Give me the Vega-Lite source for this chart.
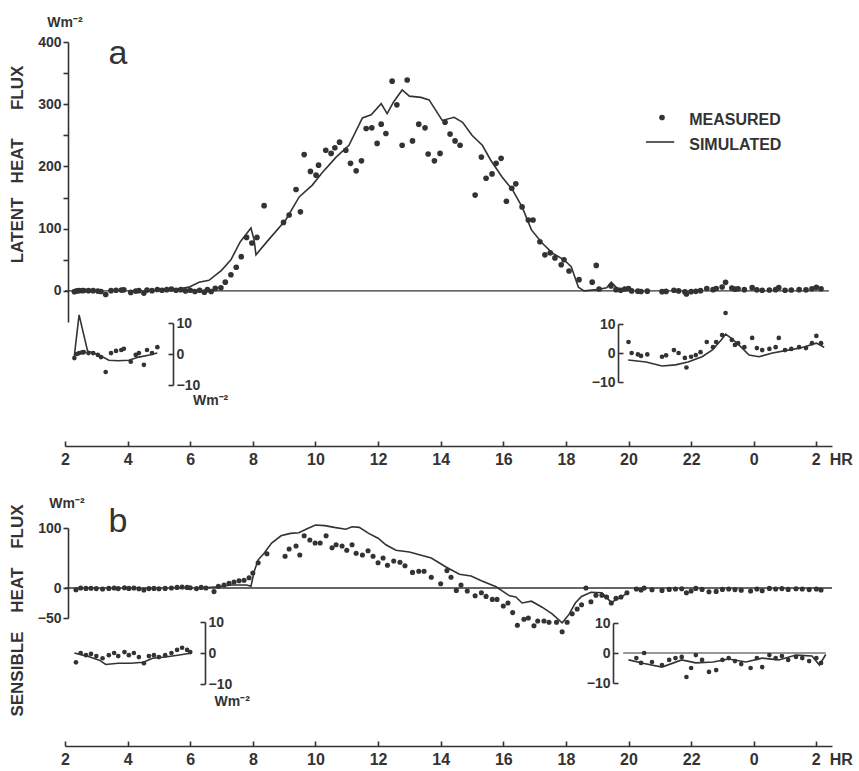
{
"$schema": "https://vega.github.io/schema/vega-lite/v6.json",
"width": 767, "height": 704,
"autosize": {"type": "none"},
"padding": {"left": 65, "top": 42, "right": 27, "bottom": 25},
"background": "white",
"config": {"view": {"stroke": null}, "axis": {"grid": false, "domainColor": "#333", "tickColor": "#333", "labelColor": "#333", "titleColor": "#333", "labelFont": "Liberation Sans", "titleFont": "Liberation Sans", "labelFontWeight": "bold", "domainWidth": 1.6, "tickWidth": 1.6, "labelOverlap": false, "labelBound": false, "labelFlush": false}, "text": {"font": "Liberation Sans", "color": "#333"}},
"datasets": {
"a_meas": [{"h":2.3,"v":-1.3},{"h":2.38,"v":0},{"h":2.45,"v":0.3},{"h":2.55,"v":0.5},{"h":2.6,"v":0.6},{"h":2.75,"v":0.3},{"h":2.9,"v":0.3},{"h":3.05,"v":-0.3},{"h":3.15,"v":-1},{"h":3.3,"v":-5.8},{"h":3.47,"v":0.3},{"h":3.63,"v":1},{"h":3.8,"v":1.3},{"h":3.88,"v":1.7},{"h":4.1,"v":-2.5},{"h":4.26,"v":-0.3},{"h":4.36,"v":0.3},{"h":4.52,"v":-3.5},{"h":4.62,"v":1.3},{"h":4.78,"v":0.3},{"h":4.95,"v":2.2},{"h":5.1,"v":1},{"h":5.25,"v":2},{"h":5.4,"v":3},{"h":5.55,"v":1},{"h":5.7,"v":2},{"h":5.85,"v":0},{"h":6.0,"v":1},{"h":6.15,"v":-1},{"h":6.3,"v":1},{"h":6.45,"v":-2},{"h":6.55,"v":2},{"h":6.67,"v":-1},{"h":6.8,"v":4},{"h":6.98,"v":5},{"h":7.12,"v":14},{"h":7.3,"v":26},{"h":7.47,"v":38},{"h":7.63,"v":55},{"h":7.8,"v":86},{"h":7.97,"v":77},{"h":8.13,"v":86},{"h":8.36,"v":137},{"h":8.98,"v":110},{"h":9.16,"v":122},{"h":9.38,"v":163},{"h":9.52,"v":127},{"h":9.64,"v":219},{"h":9.84,"v":192},{"h":10.02,"v":186},{"h":10.1,"v":202},{"h":10.33,"v":226},{"h":10.5,"v":221},{"h":10.62,"v":230},{"h":10.77,"v":239},{"h":10.97,"v":226},{"h":11.12,"v":205},{"h":11.3,"v":193},{"h":11.47,"v":209},{"h":11.62,"v":261},{"h":11.8,"v":262},{"h":11.97,"v":237},{"h":12.1,"v":268},{"h":12.25,"v":253},{"h":12.45,"v":337},{"h":12.6,"v":299},{"h":12.77,"v":234},{"h":12.93,"v":339},{"h":13.1,"v":241},{"h":13.3,"v":268},{"h":13.5,"v":262},{"h":13.6,"v":220},{"h":13.8,"v":209},{"h":13.98,"v":221},{"h":14.14,"v":271},{"h":14.3,"v":252},{"h":14.46,"v":241},{"h":14.62,"v":234},{"h":15.1,"v":154},{"h":15.3,"v":215},{"h":15.45,"v":181},{"h":15.64,"v":188},{"h":15.77,"v":205},{"h":15.93,"v":213},{"h":16.1,"v":144},{"h":16.27,"v":165},{"h":16.4,"v":172},{"h":16.6,"v":135},{"h":16.8,"v":114},{"h":16.95,"v":114},{"h":17.17,"v":79},{"h":17.33,"v":58},{"h":17.5,"v":61},{"h":17.65,"v":53},{"h":17.85,"v":42},{"h":17.94,"v":50},{"h":18.1,"v":32},{"h":18.42,"v":18},{"h":18.84,"v":14},{"h":18.97,"v":41},{"h":19.06,"v":3},{"h":19.44,"v":8},{"h":19.6,"v":2},{"h":19.75,"v":1},{"h":19.88,"v":3},{"h":20.0,"v":3.8},{"h":20.1,"v":0},{"h":20.3,"v":-0.5},{"h":20.4,"v":-1},{"h":20.6,"v":-0.5},{"h":21.07,"v":-1.3},{"h":21.2,"v":-0.8},{"h":21.45,"v":1},{"h":21.6,"v":0},{"h":21.8,"v":-1.7},{"h":21.85,"v":-5},{"h":22.0,"v":-1.3},{"h":22.15,"v":-0.7},{"h":22.3,"v":0.3},{"h":22.5,"v":3.8},{"h":22.7,"v":2},{"h":22.8,"v":3.8},{"h":22.99,"v":6.2},{"h":23.1,"v":13.8},{"h":23.3,"v":4.5},{"h":23.4,"v":2.8},{"h":23.5,"v":3.4},{"h":23.7,"v":2},{"h":23.95,"v":5.2},{"h":24.1,"v":1.7},{"h":24.27,"v":1},{"h":24.5,"v":1.4},{"h":24.7,"v":2},{"h":24.8,"v":5.2},{"h":25.0,"v":1},{"h":25.2,"v":1.4},{"h":25.45,"v":2},{"h":25.67,"v":1.7},{"h":25.86,"v":3.4},{"h":26.0,"v":5.9},{"h":26.15,"v":3.4}],
"a_sim_main": [{"h":5.0,"v":1},{"h":5.6,"v":3},{"h":5.96,"v":6},{"h":6.28,"v":14},{"h":6.6,"v":17},{"h":7.0,"v":33},{"h":7.3,"v":50},{"h":7.6,"v":79},{"h":7.94,"v":101},{"h":8.04,"v":82},{"h":8.1,"v":58},{"h":8.5,"v":82},{"h":9.05,"v":114},{"h":9.48,"v":151},{"h":9.9,"v":170},{"h":10.2,"v":189},{"h":10.66,"v":215},{"h":11.07,"v":234},{"h":11.5,"v":278},{"h":11.78,"v":283},{"h":12.1,"v":301},{"h":12.29,"v":285},{"h":12.5,"v":304},{"h":12.77,"v":323},{"h":13.0,"v":313},{"h":13.37,"v":311},{"h":13.63,"v":307},{"h":14.05,"v":274},{"h":14.43,"v":279},{"h":14.7,"v":271},{"h":15.0,"v":250},{"h":15.33,"v":234},{"h":15.6,"v":210},{"h":15.96,"v":183},{"h":16.3,"v":162},{"h":16.6,"v":135},{"h":16.9,"v":98},{"h":17.24,"v":77},{"h":17.56,"v":61},{"h":17.94,"v":50},{"h":18.17,"v":39},{"h":18.4,"v":6},{"h":18.58,"v":0},{"h":19.0,"v":2},{"h":19.3,"v":5},{"h":19.45,"v":14},{"h":19.6,"v":6},{"h":19.8,"v":2},{"h":20.0,"v":1}],
"a_sim_night": [{"h":2.29,"v":-1.3},{"h":2.45,"v":12.6},{"h":2.72,"v":1},{"h":3.09,"v":-0.3},{"h":3.4,"v":-2},{"h":3.7,"v":-2.2},{"h":4.04,"v":-2},{"h":4.36,"v":-1},{"h":4.7,"v":-0.3},{"h":4.95,"v":0.3},{"h":19.99,"v":-2.4},{"h":20.56,"v":-3.1},{"h":21.07,"v":-4.5},{"h":21.5,"v":-4.1},{"h":21.9,"v":-3.1},{"h":22.35,"v":-1.3},{"h":22.67,"v":1},{"h":22.96,"v":4.5},{"h":23.1,"v":6.5},{"h":23.3,"v":5},{"h":23.6,"v":2},{"h":23.85,"v":-0.7},{"h":24.17,"v":-1.3},{"h":24.6,"v":0},{"h":25.1,"v":1},{"h":25.5,"v":1.7},{"h":26.0,"v":3.4},{"h":26.25,"v":2}],
"b_meas": [{"h":2.35,"v":-3},{"h":2.5,"v":0},{"h":2.67,"v":-0.7},{"h":2.83,"v":-0.3},{"h":3.0,"v":-1},{"h":3.2,"v":-1.7},{"h":3.4,"v":-0.7},{"h":3.57,"v":0},{"h":3.7,"v":-1},{"h":3.9,"v":0.3},{"h":4.04,"v":-0.7},{"h":4.2,"v":0},{"h":4.36,"v":-1.3},{"h":4.52,"v":-3.3},{"h":4.68,"v":-1},{"h":4.84,"v":-0.7},{"h":5.0,"v":-1.3},{"h":5.2,"v":-0.7},{"h":5.4,"v":0},{"h":5.58,"v":1},{"h":5.74,"v":1.7},{"h":5.9,"v":1},{"h":6.0,"v":0.3},{"h":6.2,"v":-1},{"h":6.35,"v":1},{"h":6.5,"v":0},{"h":6.76,"v":-6},{"h":6.9,"v":3},{"h":7.08,"v":5},{"h":7.24,"v":8},{"h":7.4,"v":10},{"h":7.56,"v":12},{"h":7.72,"v":13},{"h":7.88,"v":17},{"h":8.0,"v":25},{"h":8.17,"v":42},{"h":8.45,"v":57},{"h":9.03,"v":53},{"h":9.16,"v":65},{"h":9.38,"v":70},{"h":9.5,"v":55},{"h":9.64,"v":87},{"h":9.82,"v":80},{"h":9.99,"v":75},{"h":10.15,"v":75},{"h":10.34,"v":87},{"h":10.53,"v":67},{"h":10.66,"v":72},{"h":10.85,"v":70},{"h":11.0,"v":63},{"h":11.17,"v":72},{"h":11.3,"v":58},{"h":11.5,"v":55},{"h":11.68,"v":62},{"h":11.84,"v":53},{"h":12.0,"v":42},{"h":12.16,"v":50},{"h":12.3,"v":38},{"h":12.5,"v":45},{"h":12.7,"v":43},{"h":12.86,"v":37},{"h":13.1,"v":26},{"h":13.3,"v":28},{"h":13.47,"v":28},{"h":13.7,"v":18},{"h":14.0,"v":7},{"h":14.2,"v":29},{"h":14.33,"v":18},{"h":14.5,"v":-4},{"h":14.65,"v":5},{"h":14.85,"v":-5},{"h":15.1,"v":-13},{"h":15.3,"v":-8},{"h":15.45,"v":-14},{"h":15.65,"v":-19},{"h":15.8,"v":-19},{"h":16.0,"v":-30},{"h":16.15,"v":-25},{"h":16.3,"v":-41},{"h":16.45,"v":-62},{"h":16.66,"v":-52},{"h":16.8,"v":-50},{"h":16.98,"v":-63},{"h":17.1,"v":-55},{"h":17.3,"v":-55},{"h":17.46,"v":-57},{"h":17.7,"v":-57},{"h":17.88,"v":-73},{"h":18.04,"v":-57},{"h":18.2,"v":-43},{"h":18.36,"v":-35},{"h":18.5,"v":-28},{"h":18.64,"v":0},{"h":18.8,"v":-23},{"h":18.96,"v":-12},{"h":19.15,"v":-12},{"h":19.3,"v":-15},{"h":19.45,"v":-25},{"h":19.6,"v":-17},{"h":19.76,"v":-15},{"h":19.95,"v":-8},{"h":20.25,"v":-1.7},{"h":20.4,"v":-3.3},{"h":20.5,"v":0},{"h":20.75,"v":-3},{"h":21.07,"v":-4},{"h":21.3,"v":-2.3},{"h":21.5,"v":-1.7},{"h":21.7,"v":-1.3},{"h":21.85,"v":-8},{"h":22.0,"v":-5},{"h":22.15,"v":-0.7},{"h":22.35,"v":-2.3},{"h":22.57,"v":-6.3},{"h":22.8,"v":-5.7},{"h":23.0,"v":-2.3},{"h":23.2,"v":-1.7},{"h":23.4,"v":-2.7},{"h":23.6,"v":-3.7},{"h":23.9,"v":-5},{"h":24.1,"v":-1.7},{"h":24.27,"v":-4.7},{"h":24.5,"v":-0.7},{"h":24.7,"v":-1.7},{"h":24.9,"v":-1},{"h":25.1,"v":-2.3},{"h":25.35,"v":-1.3},{"h":25.55,"v":-1.7},{"h":25.77,"v":-2.7},{"h":26.0,"v":-1.7},{"h":26.15,"v":-3.3}],
"b_sim_main": [{"h":6.3,"v":0},{"h":6.9,"v":2},{"h":7.3,"v":5},{"h":7.8,"v":5},{"h":7.94,"v":3},{"h":8.04,"v":27},{"h":8.17,"v":47},{"h":8.36,"v":58},{"h":8.6,"v":75},{"h":8.9,"v":87},{"h":9.2,"v":91},{"h":9.47,"v":92},{"h":9.7,"v":98},{"h":10.0,"v":105},{"h":10.3,"v":104},{"h":10.6,"v":101},{"h":10.97,"v":98},{"h":11.17,"v":102},{"h":11.4,"v":101},{"h":11.7,"v":91},{"h":12.0,"v":83},{"h":12.25,"v":72},{"h":12.57,"v":63},{"h":13.0,"v":60},{"h":13.7,"v":50},{"h":14.17,"v":35},{"h":14.6,"v":23},{"h":14.97,"v":20},{"h":15.3,"v":12},{"h":15.77,"v":2},{"h":16.2,"v":-13},{"h":16.4,"v":-15},{"h":16.6,"v":-25},{"h":16.9,"v":-22},{"h":17.24,"v":-32},{"h":17.56,"v":-43},{"h":17.88,"v":-58},{"h":18.1,"v":-44},{"h":18.3,"v":-25},{"h":18.5,"v":-14},{"h":18.8,"v":-7},{"h":19.15,"v":-8},{"h":19.45,"v":-24},{"h":19.8,"v":-14},{"h":20.0,"v":-7}],
"b_sim_night": [{"h":2.3,"v":0},{"h":2.7,"v":-1},{"h":3.1,"v":-2.3},{"h":3.3,"v":-3.7},{"h":3.7,"v":-3.3},{"h":4.1,"v":-3.3},{"h":4.5,"v":-3},{"h":4.8,"v":-1.7},{"h":5.2,"v":-1.3},{"h":5.6,"v":-0.7},{"h":6.05,"v":0},{"h":20.0,"v":-2.3},{"h":20.5,"v":-3.5},{"h":21.07,"v":-4.7},{"h":21.7,"v":-2.3},{"h":22.15,"v":-3.3},{"h":22.7,"v":-3},{"h":23.2,"v":-2},{"h":23.75,"v":-3},{"h":24.27,"v":-1.7},{"h":24.8,"v":-2.3},{"h":25.35,"v":-0.7},{"h":25.86,"v":-1},{"h":26.1,"v":-4},{"h":26.3,"v":-0.5}]
},
"resolve": {"scale": {"y": "independent"}, "axis": {"x": "independent", "y": "independent"}},
"layer": [
{"layer": [
 {"data": {"name": "a_meas"}, "mark": {"type": "point", "filled": true, "size": 32, "color": "#333", "opacity": 1},
  "encoding": {
   "x": {"field": "h", "type": "quantitative", "scale": {"domain": [2, 26.5], "nice": false, "zero": false},
     "axis": {"orient": "bottom", "offset": -300, "values": [2,3,4,5,6,7,8,9,10,11,12,13,14,15,16,17,18,19,20,21,22,23,24,25,26], "labelExpr": "datum.value % 2 != 0 ? '' : (datum.value == 26 ? '2\u00a0\u00a0HR' : '' + (datum.value % 24))", "labelAlign": {"condition": {"test": "datum.value == 26", "value": "left"}, "value": "center"}, "labelOffset": {"condition": {"test": "datum.value == 26", "value": -5}, "value": 0}, "tickSize": -5, "labelPadding": 10, "labelFontSize": 16, "title": null}},
   "y": {"field": "v", "type": "quantitative", "scale": {"domain": [-50, 400], "range": [280, 0], "nice": false, "zero": false},
     "axis": {"orient": "left", "offset": -3, "values": [0,50,100,150,200,250,300,350,400], "labelExpr": "datum.value % 100 == 0 ? datum.label : ''", "tickSize": 5, "labelPadding": 2, "labelFontSize": 14, "title": "LATENT\u00a0\u00a0\u00a0HEAT\u00a0\u00a0\u00a0\u00a0\u00a0\u00a0FLUX", "titleFontSize": 17, "titleFontWeight": "bold", "titleAngle": -90, "titleX": -51, "titleY": 122, "titleBaseline": "middle", "titleAlign": "center"}}
  }},
 {"data": {"name": "a_sim_main"}, "mark": {"type": "line", "color": "#333", "strokeWidth": 1.6},
  "encoding": {"x": {"field": "h", "type": "quantitative", "scale": {"domain": [2, 26.5], "nice": false, "zero": false}},
   "y": {"field": "v", "type": "quantitative", "scale": {"domain": [-50, 400], "range": [280, 0], "nice": false, "zero": false}}}},
 {"data": {"values": [{"k": "zero"}]}, "mark": {"type": "rule", "color": "#333", "strokeWidth": 1.3},
  "encoding": {"x": {"datum": 2, "type": "quantitative", "scale": {"domain": [2, 26.5], "nice": false, "zero": false}}, "x2": {"datum": 26.4},
   "y": {"datum": 0, "type": "quantitative", "scale": {"domain": [-50, 400], "range": [280, 0], "nice": false, "zero": false}}}},
 {"data": {"values": [{"k": "dot"}]}, "mark": {"type": "point", "filled": true, "size": 32, "color": "#333", "opacity": 1},
  "encoding": {"x": {"datum": 21.07, "type": "quantitative", "scale": {"domain": [2, 26.5], "nice": false, "zero": false}},
   "y": {"datum": 278.7, "type": "quantitative", "scale": {"domain": [-50, 400], "range": [280, 0], "nice": false, "zero": false}}}},
 {"data": {"values": [{"k": "dash"}]}, "mark": {"type": "rule", "color": "#333", "strokeWidth": 1.6},
  "encoding": {"x": {"datum": 20.56, "type": "quantitative", "scale": {"domain": [2, 26.5], "nice": false, "zero": false}}, "x2": {"datum": 21.46},
   "y": {"datum": 239.3, "type": "quantitative", "scale": {"domain": [-50, 400], "range": [280, 0], "nice": false, "zero": false}}}},
 {"data": {"values": [{"t": "MEASURED"}]}, "mark": {"type": "text", "fontSize": 16, "fontWeight": "bold", "align": "left", "baseline": "alphabetic", "color": "#333"},
  "encoding": {"x": {"datum": 21.94, "type": "quantitative", "scale": {"domain": [2, 26.5], "nice": false, "zero": false}},
   "y": {"datum": 266.6, "type": "quantitative", "scale": {"domain": [-50, 400], "range": [280, 0], "nice": false, "zero": false}}, "text": {"field": "t", "type": "nominal"}}},
 {"data": {"values": [{"t": "SIMULATED"}]}, "mark": {"type": "text", "fontSize": 16, "fontWeight": "bold", "align": "left", "baseline": "alphabetic", "color": "#333"},
  "encoding": {"x": {"datum": 21.94, "type": "quantitative", "scale": {"domain": [2, 26.5], "nice": false, "zero": false}},
   "y": {"datum": 226.5, "type": "quantitative", "scale": {"domain": [-50, 400], "range": [280, 0], "nice": false, "zero": false}}, "text": {"field": "t", "type": "nominal"}}},
 {"data": {"values": [{"t": "a"}]}, "mark": {"type": "text", "fontSize": 34, "align": "center", "baseline": "alphabetic", "color": "#333"},
  "encoding": {"x": {"datum": 3.69, "type": "quantitative", "scale": {"domain": [2, 26.5], "nice": false, "zero": false}},
   "y": {"datum": 365, "type": "quantitative", "scale": {"domain": [-50, 400], "range": [280, 0], "nice": false, "zero": false}}, "text": {"field": "t", "type": "nominal"}}},
 {"data": {"values": [{"t": "Wm⁻²"}]}, "mark": {"type": "text", "fontSize": 14, "fontWeight": "bold", "align": "center", "baseline": "alphabetic", "color": "#333"},
  "encoding": {"x": {"datum": 2.0, "type": "quantitative", "scale": {"domain": [2, 26.5], "nice": false, "zero": false}},
   "y": {"datum": 424, "type": "quantitative", "scale": {"domain": [-50, 400], "range": [280, 0], "nice": false, "zero": false}}, "text": {"field": "t", "type": "nominal"}}}
]},
{"layer": [
 {"data": {"name": "a_meas"}, "transform": [{"filter": "datum.h <= 5.0"}], "mark": {"type": "point", "filled": true, "size": 22, "color": "#333", "opacity": 1},
  "encoding": {"x": {"field": "h", "type": "quantitative", "scale": {"domain": [2, 26.5], "nice": false, "zero": false}, "axis": null},
   "y": {"field": "v", "type": "quantitative", "scale": {"domain": [-10, 10], "range": [343, 281], "nice": false, "zero": false},
     "axis": {"orient": "right", "offset": -659, "values": [-10, 0, 10], "tickSize": -5, "labelPadding": 8, "labelFontSize": 14, "title": null}}}},
 {"data": {"name": "a_sim_night"}, "transform": [{"filter": "datum.h <= 5.0"}], "mark": {"type": "line", "color": "#333", "strokeWidth": 1.6},
  "encoding": {"x": {"field": "h", "type": "quantitative", "scale": {"domain": [2, 26.5], "nice": false, "zero": false}, "axis": null},
   "y": {"field": "v", "type": "quantitative", "scale": {"domain": [-10, 10], "range": [343, 281], "nice": false, "zero": false}}}},
 {"data": {"values": [{"t": "Wm⁻²"}]}, "mark": {"type": "text", "fontSize": 14, "fontWeight": "bold", "align": "center", "baseline": "alphabetic", "color": "#333"},
  "encoding": {"x": {"datum": 6.65, "type": "quantitative", "scale": {"domain": [2, 26.5], "nice": false, "zero": false}, "axis": null},
   "y": {"datum": -16.6, "type": "quantitative", "scale": {"domain": [-10, 10], "range": [343, 281], "nice": false, "zero": false}}, "text": {"field": "t", "type": "nominal"}}}
]},
{"layer": [
 {"data": {"name": "a_meas"}, "transform": [{"filter": "datum.h >= 19.95"}], "mark": {"type": "point", "filled": true, "size": 22, "color": "#333", "opacity": 1},
  "encoding": {"x": {"field": "h", "type": "quantitative", "scale": {"domain": [2, 26.5], "nice": false, "zero": false}, "axis": null},
   "y": {"field": "v", "type": "quantitative", "scale": {"domain": [-10, 10], "range": [340, 282], "nice": false, "zero": false},
     "axis": {"orient": "left", "offset": -553, "values": [-10, 0, 10], "tickSize": -5, "labelPadding": 8, "labelFontSize": 14, "title": null}}}},
 {"data": {"name": "a_sim_night"}, "transform": [{"filter": "datum.h >= 19.9"}], "mark": {"type": "line", "color": "#333", "strokeWidth": 1.6},
  "encoding": {"x": {"field": "h", "type": "quantitative", "scale": {"domain": [2, 26.5], "nice": false, "zero": false}, "axis": null},
   "y": {"field": "v", "type": "quantitative", "scale": {"domain": [-10, 10], "range": [340, 282], "nice": false, "zero": false}}}}
]},
{"layer": [
 {"data": {"name": "b_meas"}, "mark": {"type": "point", "filled": true, "size": 26, "color": "#333", "opacity": 1},
  "encoding": {
   "x": {"field": "h", "type": "quantitative", "scale": {"domain": [2, 26.5], "nice": false, "zero": false},
     "axis": {"orient": "bottom", "offset": 0, "values": [2,3,4,5,6,7,8,9,10,11,12,13,14,15,16,17,18,19,20,21,22,23,24,25,26], "labelExpr": "datum.value % 2 != 0 ? '' : (datum.value == 26 ? '2\u00a0\u00a0HR' : '' + (datum.value % 24))", "labelAlign": {"condition": {"test": "datum.value == 26", "value": "left"}, "value": "center"}, "labelOffset": {"condition": {"test": "datum.value == 26", "value": -5}, "value": 0}, "tickSize": -5, "labelPadding": 10, "labelFontSize": 16, "title": null}},
   "y": {"field": "v", "type": "quantitative", "scale": {"domain": [-50, 100], "range": [576, 486], "nice": false, "zero": false},
     "axis": {"orient": "left", "offset": -3, "values": [-50, 0, 100], "tickSize": 5, "labelPadding": 2, "labelFontSize": 14, "title": "SENSIBLE\u00a0\u00a0\u00a0\u00a0HEAT\u00a0\u00a0\u00a0\u00a0FLUX", "titleFontSize": 17, "titleFontWeight": "bold", "titleAngle": -90, "titleX": -51, "titleY": 568, "titleBaseline": "middle", "titleAlign": "center"}}
  }},
 {"data": {"name": "b_sim_main"}, "mark": {"type": "line", "color": "#333", "strokeWidth": 1.6},
  "encoding": {"x": {"field": "h", "type": "quantitative", "scale": {"domain": [2, 26.5], "nice": false, "zero": false}},
   "y": {"field": "v", "type": "quantitative", "scale": {"domain": [-50, 100], "range": [576, 486], "nice": false, "zero": false}}}},
 {"data": {"values": [{"k": "zero"}]}, "mark": {"type": "rule", "color": "#333", "strokeWidth": 1.3},
  "encoding": {"x": {"datum": 2, "type": "quantitative", "scale": {"domain": [2, 26.5], "nice": false, "zero": false}}, "x2": {"datum": 26.5},
   "y": {"datum": 0, "type": "quantitative", "scale": {"domain": [-50, 100], "range": [576, 486], "nice": false, "zero": false}}}},
 {"data": {"values": [{"t": "b"}]}, "mark": {"type": "text", "fontSize": 34, "align": "center", "baseline": "alphabetic", "color": "#333"},
  "encoding": {"x": {"datum": 3.69, "type": "quantitative", "scale": {"domain": [2, 26.5], "nice": false, "zero": false}},
   "y": {"datum": 93.3, "type": "quantitative", "scale": {"domain": [-50, 100], "range": [576, 486], "nice": false, "zero": false}}, "text": {"field": "t", "type": "nominal"}}},
 {"data": {"values": [{"t": "Wm⁻²"}]}, "mark": {"type": "text", "fontSize": 14, "fontWeight": "bold", "align": "center", "baseline": "alphabetic", "color": "#333"},
  "encoding": {"x": {"datum": 2.06, "type": "quantitative", "scale": {"domain": [2, 26.5], "nice": false, "zero": false}},
   "y": {"datum": 133, "type": "quantitative", "scale": {"domain": [-50, 100], "range": [576, 486], "nice": false, "zero": false}}, "text": {"field": "t", "type": "nominal"}}}
]},
{"layer": [
 {"data": {"name": "b_meas"}, "transform": [{"filter": "datum.h <= 6.05"}], "mark": {"type": "point", "filled": true, "size": 22, "color": "#333", "opacity": 1},
  "encoding": {"x": {"field": "h", "type": "quantitative", "scale": {"domain": [2, 26.5], "nice": false, "zero": false}, "axis": null},
   "y": {"field": "v", "type": "quantitative", "scale": {"domain": [-10, 10], "range": [642, 580], "nice": false, "zero": false},
     "axis": {"orient": "right", "offset": -627, "values": [-10, 0, 10], "tickSize": -5, "labelPadding": 8, "labelFontSize": 14, "title": null}}}},
 {"data": {"name": "b_sim_night"}, "transform": [{"filter": "datum.h <= 6.1"}], "mark": {"type": "line", "color": "#333", "strokeWidth": 1.6},
  "encoding": {"x": {"field": "h", "type": "quantitative", "scale": {"domain": [2, 26.5], "nice": false, "zero": false}, "axis": null},
   "y": {"field": "v", "type": "quantitative", "scale": {"domain": [-10, 10], "range": [642, 580], "nice": false, "zero": false}}}},
 {"data": {"values": [{"t": "Wm⁻²"}]}, "mark": {"type": "text", "fontSize": 14, "fontWeight": "bold", "align": "center", "baseline": "alphabetic", "color": "#333"},
  "encoding": {"x": {"datum": 7.34, "type": "quantitative", "scale": {"domain": [2, 26.5], "nice": false, "zero": false}, "axis": null},
   "y": {"datum": -17.2, "type": "quantitative", "scale": {"domain": [-10, 10], "range": [642, 580], "nice": false, "zero": false}}, "text": {"field": "t", "type": "nominal"}}}
]},
{"layer": [
 {"data": {"name": "b_meas"}, "transform": [{"filter": "datum.h >= 20.2"}], "mark": {"type": "point", "filled": true, "size": 22, "color": "#333", "opacity": 1},
  "encoding": {"x": {"field": "h", "type": "quantitative", "scale": {"domain": [2, 26.5], "nice": false, "zero": false}, "axis": null},
   "y": {"field": "v", "type": "quantitative", "scale": {"domain": [-10, 10], "range": [641, 581], "nice": false, "zero": false},
     "axis": {"orient": "left", "offset": -548, "values": [-10, 0, 10], "tickSize": -5, "labelPadding": 8, "labelFontSize": 14, "title": null}}}},
 {"data": {"name": "b_sim_night"}, "transform": [{"filter": "datum.h >= 19.9"}], "mark": {"type": "line", "color": "#333", "strokeWidth": 1.6},
  "encoding": {"x": {"field": "h", "type": "quantitative", "scale": {"domain": [2, 26.5], "nice": false, "zero": false}, "axis": null},
   "y": {"field": "v", "type": "quantitative", "scale": {"domain": [-10, 10], "range": [641, 581], "nice": false, "zero": false}}}},
 {"data": {"values": [{"k": "zero"}]}, "mark": {"type": "rule", "color": "#333", "strokeWidth": 1.2},
  "encoding": {"x": {"datum": 19.83, "type": "quantitative", "scale": {"domain": [2, 26.5], "nice": false, "zero": false}, "axis": null}, "x2": {"datum": 26.3},
   "y": {"datum": 0, "type": "quantitative", "scale": {"domain": [-10, 10], "range": [641, 581], "nice": false, "zero": false}}}}
]}
]
}
